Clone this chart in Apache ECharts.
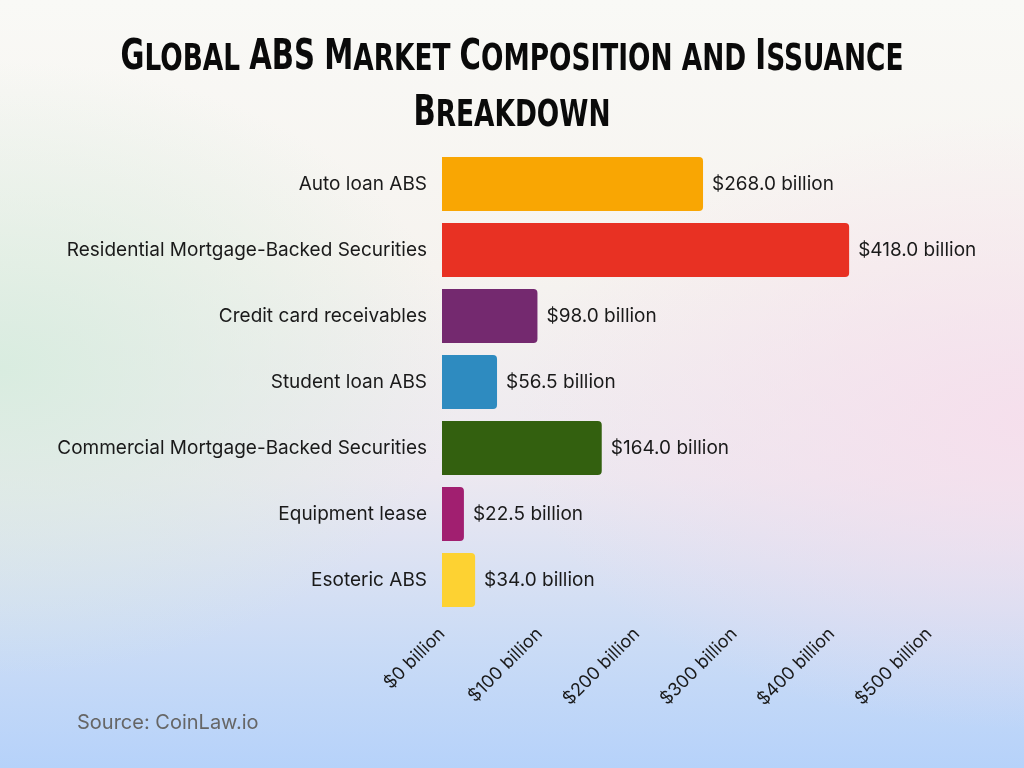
<!DOCTYPE html>
<html>
<head>
<meta charset="utf-8">
<script src="https://cdn.jsdelivr.net/npm/echarts@6/dist/echarts.min.js"></script>
<style>
  html, body { margin: 0; padding: 0; }
  body {
    width: 1024px; height: 768px; overflow: hidden;
    background:
      radial-gradient(ellipse 45% 40% at 0% 48%, rgba(214, 236, 222, 0.9), rgba(214, 236, 222, 0) 100%),
      radial-gradient(ellipse 50% 40% at 100% 55%, rgba(246, 222, 236, 0.9), rgba(246, 222, 236, 0) 100%),
      linear-gradient(to bottom, #f9f9f6 0%, #f6f3ef 35%, #ece8f0 62%, #c9dbf6 85%, #b6d2fa 100%);
  }
  #chart { width: 1024px; height: 768px; }
</style>
</head>
<body>
<div id="chart"></div>
<script>
// 分类与数值（自上而下）
var categories = [
  'Auto loan ABS',
  'Residential Mortgage-Backed Securities',
  'Credit card receivables',
  'Student loan ABS',
  'Commercial Mortgage-Backed Securities',
  'Equipment lease',
  'Esoteric ABS'
];
var values = [268.0, 418.0, 98.0, 56.5, 164.0, 22.5, 34.0];
var barColors = ['#f9a603', '#e83123', '#74296f', '#2e8bc0', '#33600f', '#a11f70', '#fdd232'];
var titleLines = ['Global ABS Market Composition and Issuance', 'Breakdown'];

var labelFont = 'Inter, "Noto Sans", sans-serif';
var capFont = 'bold 42px "DejaVu Sans", sans-serif';
var smallFont = 'bold 38px "DejaVu Sans", sans-serif';

var chart = echarts.init(document.getElementById('chart'));

var seriesData = values.map(function (v, i) {
  return { value: v, itemStyle: { color: barColors[i] } };
});

/** 把一行文字拆成小型大写的富文本片段，并量出宽度 */
var measureCtx = document.createElement('canvas').getContext('2d');
function smallCaps(line) {
  var out = '';
  var width = 0;
  var runs = line.match(/[A-Z]+|[^A-Z]+/g) || [];
  runs.forEach(function (r) {
    var isCap = /^[A-Z]/.test(r);
    var txt = r.toUpperCase();
    measureCtx.font = isCap ? capFont : smallFont;
    width += measureCtx.measureText(txt).width;
    out += '{' + (isCap ? 'c' : 's') + '|' + txt + '}';
  });
  return { text: out, width: width };
}

// 标题：第一行压缩到约 783px 宽
var line1 = smallCaps(titleLines[0]);
var titleScale = 783 / line1.width;

var titleGraphics = titleLines.map(function (t, i) {
  var sc = smallCaps(t);
  return {
    type: 'text',
    x: 512,
    y: 58 + i * 56,
    scaleX: titleScale,
    style: {
      text: sc.text,
      fill: '#0a0a0a',
      align: 'center',
      verticalAlign: 'middle',
      rich: {
        c: { font: capFont, fill: '#0a0a0a', verticalAlign: 'bottom', lineHeight: 42 },
        s: { font: smallFont, fill: '#0a0a0a', verticalAlign: 'bottom', lineHeight: 42 }
      }
    }
  };
});

var option = {
  backgroundColor: 'transparent',
  animation: false,
  graphic: titleGraphics.concat([{
    type: 'text',
    left: 77,
    top: 713,
    style: {
      text: 'Source: CoinLaw.io',
      fill: '#666666',
      font: '20px ' + labelFont
    }
  }]),
  grid: {
    left: 442,
    right: 95,
    top: 151,
    bottom: 155
  },
  xAxis: {
    type: 'value',
    min: 0,
    max: 500,
    interval: 100,
    splitLine: { show: false },
    axisLine: { show: false },
    axisTick: { show: false },
    axisLabel: {
      rotate: 45,
      margin: 18,
      fontSize: 18,
      fontFamily: labelFont,
      color: '#1a1a1a',
      formatter: function (v) { return '$' + v + ' billion'; }
    }
  },
  yAxis: {
    type: 'category',
    inverse: true,
    data: categories,
    axisLine: { show: false },
    axisTick: { show: false },
    axisLabel: {
      margin: 15,
      fontSize: 19,
      fontFamily: labelFont,
      color: '#1a1a1a'
    }
  },
  series: [{
    type: 'bar',
    data: seriesData,
    barCategoryGap: '18%',
    itemStyle: { borderRadius: [0, 4, 4, 0] },
    label: {
      show: true,
      position: 'right',
      distance: 9,
      fontSize: 19,
      fontFamily: labelFont,
      color: '#1a1a1a',
      formatter: function (p) { return '$' + p.value.toFixed(1) + ' billion'; }
    }
  }]
};

chart.setOption(option);
</script>
</body>
</html>
